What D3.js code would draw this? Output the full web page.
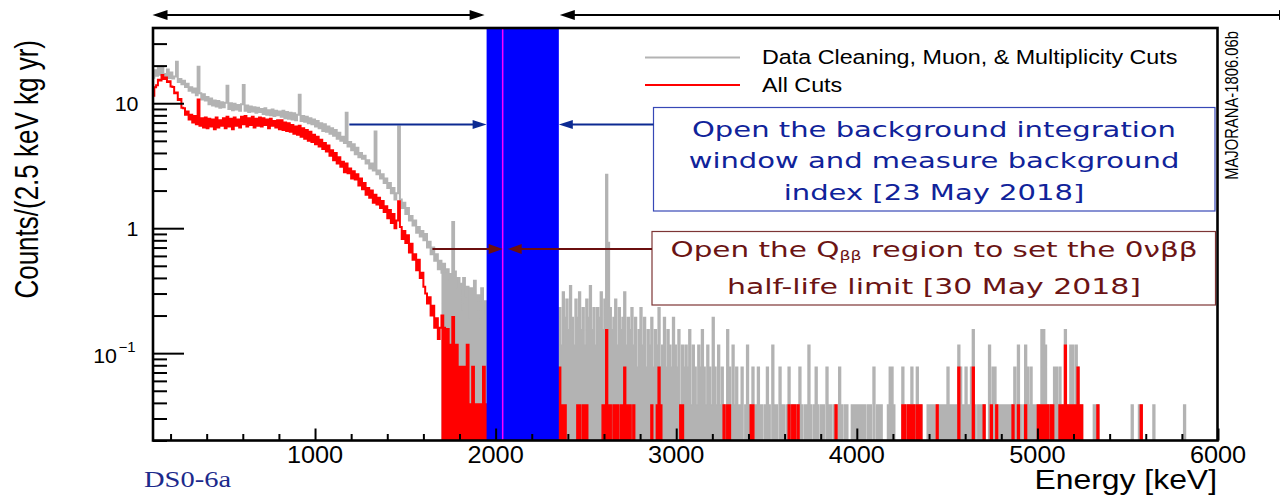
<!DOCTYPE html>
<html>
<head>
<meta charset="utf-8">
<script src="https://cdn.jsdelivr.net/npm/d3@7"></script>
<style>
  body { margin: 0; background: #ffffff; }
  svg { display: block; }
</style>
</head>
<body>
<svg id="chart" width="1280" height="501"></svg>
<script>
// ---- data ----
var binWidth = 10;          // keV per drawn bin
var countUnit = 0.0385;     // one count in counts/(2.5 keV kg yr)

// 100 - 1950 keV, counts/(2.5 keV kg yr)
var lowStart = 100;
var greyLow = [
  16.0, 18.4, 16.6, 19.2, 16.9, 19.6, 17.1, 16.2, 18.6, 15.9,
  17.6, 15.8, 16.4, 21.5, 14.8, 15.6, 14.2, 15.1, 13.5, 14.3,
  12.6, 13.4, 12.2, 13.1, 11.6, 19.6, 12.0, 10.7, 11.8, 10.5,
  11.2, 9.8, 10.9, 9.6, 10.5, 9.4, 10.4, 9.2, 10.2, 9.3,
  10.1, 13.8, 9.0, 10.0, 8.8, 9.9, 8.9, 9.7, 8.7, 9.8,
  14.0, 8.7, 9.6, 8.5, 9.4, 8.6, 9.3, 8.4, 9.2, 8.5,
  9.0, 8.2, 9.1, 8.1, 8.8, 8.0, 8.9, 7.9, 8.7, 8.0,
  8.6, 7.8, 8.7, 7.6, 8.5, 7.5, 8.4, 7.4, 8.3, 7.3,
  8.1, 11.7, 7.2, 7.9, 7.1, 7.8, 6.9, 7.6, 6.8, 7.4,
  6.5, 7.2, 6.3, 6.9, 6.0, 6.8, 5.9, 6.5, 5.7, 6.3,
  5.5, 6.1, 5.2, 5.8, 5.0, 5.4, 4.8, 8.4, 4.5, 4.9,
  4.2, 4.7, 3.9, 4.4, 3.7, 4.0, 3.6, 3.8, 3.3, 3.5,
  3.0, 3.3, 2.9, 5.95, 2.7, 2.9, 2.5, 2.7, 2.3, 2.5,
  2.1, 2.3, 1.9, 2.1, 1.7, 1.9, 6.5, 1.7, 1.45, 1.6,
  1.3, 1.45, 1.15, 1.25, 1.05, 1.15, 0.92, 1.02, 0.86, 0.95,
  0.8, 0.9, 0.7, 0.78, 0.62, 0.7, 0.55, 0.62, 0.47, 0.55,
  0.44, 0.52, 0.39, 0.47, 0.36, 0.43, 1.12, 0.45, 0.33, 0.4,
  0.36, 0.22, 0.40, 0.28, 0.34, 0.19, 0.33, 0.25, 0.38, 0.21,
  0.29, 0.17, 0.33, 0.2, 0.26
];
var redLow = [
  11.5, 13.4, 13.9, 15.4, 15.2, 16.8, 15.6, 16.1, 14.8, 15.0,
  13.6, 13.5, 12.0, 12.2, 10.6, 10.8, 9.2, 9.1, 8.1, 8.6,
  7.4, 8.1, 7.0, 7.9, 6.8, 10.7, 6.6, 7.6, 6.4, 7.7,
  6.3, 7.5, 6.5, 7.4, 6.2, 7.7, 6.4, 7.3, 6.6, 7.6,
  6.3, 7.8, 6.5, 7.5, 6.2, 7.7, 6.6, 7.4, 6.4, 7.8,
  6.8, 7.9, 6.5, 7.6, 6.7, 7.8, 6.4, 7.5, 6.6, 7.7,
  6.5, 7.6, 6.7, 7.4, 6.3, 7.5, 6.6, 7.2, 6.4, 7.3,
  6.2, 7.3, 6.1, 7.0, 6.0, 6.9, 5.9, 6.7, 5.7, 6.5,
  5.6, 6.6, 5.4, 6.3, 5.2, 6.1, 5.0, 5.9, 4.9, 5.6,
  4.7, 5.4, 4.5, 5.1, 4.3, 4.8, 4.1, 4.6, 3.8, 4.2,
  3.5, 4.0, 3.3, 3.7, 3.1, 3.4, 2.8, 3.3, 2.75, 3.0,
  2.5, 2.85, 2.45, 2.7, 2.2, 2.5, 2.05, 2.3, 1.85, 2.1,
  1.75, 2.0, 1.6, 1.85, 1.55, 1.75, 1.45, 1.65, 1.35, 1.5,
  1.2, 1.4, 1.1, 1.3, 1.0, 1.15, 1.64, 1.02, 0.82, 0.95,
  0.76, 0.88, 0.64, 0.75, 0.56, 0.62, 0.46, 0.56, 0.4, 0.44,
  0.34, 0.3, 0.25, 0.28, 0.2, 0.24, 0.16, 0.19, 0.13, 0.16,
  0.2, 0.16, 0.117, 0.156, 0.078, 0.117, 0.195, 0.078, 0.117, 0.078,
  0.078, 0.039, 0.078, 0.039, 0.117, 0.039, 0, 0.078, 0.039, 0.039,
  0.039, 0, 0.039, 0.078, 0.039
];
var tailStart = 1700;       // from here the fine bins look like solid bars

// 2350 - 6000 keV, counts per bin
var highStart = 2350;
var greyHigh = [
  6, 3, 8, 5, 7, 4, 9, 5, 3, 7,
  5, 8, 4, 6, 3, 7, 5, 9, 4, 6,
  3, 6, 5, 8, 4, 7, 70, 20, 6, 4,
  5, 7, 3, 6, 4, 5, 8, 3, 5, 4,
  6, 3, 5, 2, 4, 6, 3, 5, 2, 4,
  3, 5, 2, 4, 3, 6, 2, 3, 5, 2,
  4, 3, 2, 5, 3, 2, 4, 1, 3, 2,
  3, 2, 4, 1, 3, 2, 1, 3, 2, 4,
  2, 1, 3, 2, 1, 5, 2, 1, 3, 1,
  2, 1, 1, 4, 2, 1, 3, 1, 2, 1,
  1, 2, 0, 1, 3, 1, 1, 2, 0, 1,
  2, 1, 1, 0, 1, 2, 1, 0, 3, 1,
  1, 0, 2, 1, 1, 0, 1, 2, 1, 1,
  1, 1, 1, 2, 1, 0, 1, 1, 3, 1,
  0, 1, 2, 1, 0, 1, 1, 0, 2, 1,
  1, 0, 1, 1, 0, 2, 1, 0, 1, 1,
  0, 0, 1, 1, 1, 1, 1, 1, 1, 1,
  0, 1, 1, 0, 2, 0, 1, 1, 1, 0,
  0, 0, 1, 2, 2, 1, 0, 0, 0, 0,
  2, 1, 0, 1, 1, 2, 1, 1, 2, 1,
  1, 0, 0, 0, 1, 1, 1, 1, 0, 1,
  1, 1, 1, 1, 1, 2, 1, 1, 1, 1,
  1, 3, 2, 1, 1, 2, 1, 1, 2, 4,
  1, 0, 1, 1, 1, 1, 0, 0, 3, 1,
  2, 2, 1, 0, 1, 1, 1, 1, 1, 1,
  1, 1, 2, 1, 3, 1, 0, 1, 3, 2,
  1, 2, 1, 1, 1, 1, 1, 4, 4, 3,
  1, 1, 1, 1, 2, 2, 1, 2, 1, 1,
  4, 1, 1, 3, 3, 1, 3, 2, 1, 1,
  0, 0, 0, 0, 0, 0, 1, 1, 1, 0,
  0, 0, 0, 0, 0, 0, 0, 0, 0, 0,
  0, 0, 0, 0, 0, 0, 0, 1, 0, 0,
  0, 1, 1, 0, 0, 0, 0, 0, 0, 1,
  0, 0, 0, 0, 0, 0, 0, 0, 0, 0,
  0, 0, 0, 0, 0, 0, 1, 0, 0, 0,
  0, 0, 0, 0, 0, 0, 0, 0, 0, 0,
  0, 0, 0, 0, 0
];
// [bin start keV, counts]
var redHighEvents = [
  [2350, 2], [2360, 1], [2370, 1], [2380, 1], [2450, 1], [2460, 1], [2480, 1],
  [2490, 1], [2500, 1], [2590, 1], [2600, 1], [2610, 4], [2620, 1], [2630, 1],
  [2650, 1], [2660, 1], [2670, 1], [2690, 1], [2700, 1], [2710, 2], [2720, 1],
  [2730, 1], [2740, 1], [2760, 1], [2860, 1], [2890, 1], [2900, 2], [2910, 1],
  [3020, 1], [3030, 1], [3260, 1], [3280, 1], [3290, 1], [3410, 1], [3420, 1],
  [3620, 1], [3640, 1], [3650, 1], [3670, 1], [3880, 1], [4250, 1], [4260, 1],
  [4280, 1], [4290, 1], [4300, 1], [4310, 1], [4330, 1], [4340, 1], [4350, 1],
  [4440, 1], [4560, 2], [4640, 2], [4700, 1], [4740, 1], [4770, 1], [4860, 1],
  [4890, 1], [4930, 1], [5000, 1], [5010, 1], [5020, 1], [5030, 1], [5040, 1],
  [5050, 1], [5070, 1], [5080, 1], [5120, 1], [5130, 1], [5140, 1], [5150, 3],
  [5160, 1], [5170, 1], [5180, 1], [5190, 1], [5200, 1], [5210, 1], [5220, 2],
  [5230, 1], [5240, 1], [5330, 1], [5570, 1]
];

var bgWindow = [1950, 2350];
var qbb = 2039;
var xTickValues = [1000, 2000, 3000, 4000, 5000, 6000];
var yMajor = [0.1, 1, 10];
var legendNames = ["Data Cleaning, Muon, & Multiplicity Cuts", "All Cuts"];
var blueText = ["Open the background integration", "window and measure background", "index [23 May 2018]"];

// ---- drawing ----
var svg = d3.select("#chart");
var sans = "'Liberation Sans', Arial, Helvetica, sans-serif";
var box = "'DejaVu Sans', Verdana, sans-serif";

var x = d3.scaleLinear().domain([100, 6000]).range([152.5, 1218]);
var y = d3.scaleLog().domain([0.02, 40]).range([440.5, 28]);
var yBottom = 440.5;

svg.append("clipPath").attr("id", "clip")
  .append("rect")
    .attr("x", 153).attr("y", 28)
    .attr("width", 1217.5 - 153).attr("height", yBottom - 28);

function stepPath(start, values) {
  var p = d3.path();
  var yb = yBottom + 20;
  p.moveTo(x(start), yb);
  values.forEach(function(v, i) {
    var yy = v > 0 ? y(v) : yb;
    p.lineTo(x(start + i * binWidth), yy);
    p.lineTo(x(start + (i + 1) * binWidth), yy);
  });
  p.lineTo(x(start + values.length * binWidth), yb);
  return p.toString();
}

var redHigh = greyHigh.map(function() { return 0; });
redHighEvents.forEach(function(e) {
  redHigh[(e[0] - highStart) / binWidth] = e[1];
});
function toUnits(c) { return c * countUnit; }

var tailIndex = (tailStart - lowStart) / binWidth;
var hist = svg.append("g").attr("clip-path", "url(#clip)");
var series = [
  {color: "#b3b3b3", low: greyLow, high: greyHigh.map(toUnits)},
  {color: "#ff0000", low: redLow, high: redHigh.map(toUnits)}
];
series.forEach(function(s) {
  // continuum as a plain step line
  hist.append("path")
    .attr("d", stepPath(lowStart, s.low))
    .attr("fill", "none")
    .attr("stroke", s.color)
    .attr("stroke-width", 2);
  // steep tail: dense bins read as solid
  hist.append("path")
    .attr("d", stepPath(tailStart, s.low.slice(tailIndex)))
    .attr("fill", s.color);
  // sparse region: the 2.5 keV bins pack into solid bars
  hist.append("path")
    .attr("d", stepPath(highStart, s.high))
    .attr("fill", s.color)
    .attr("stroke", s.color)
    .attr("stroke-width", 1.5);
});

// blinded window and Q value
svg.append("rect")
  .attr("x", x(bgWindow[0])).attr("y", 28)
  .attr("width", x(bgWindow[1]) - x(bgWindow[0])).attr("height", yBottom - 28)
  .attr("fill", "#0000ff");
svg.append("line")
  .attr("x1", x(qbb)).attr("x2", x(qbb))
  .attr("y1", 28).attr("y2", yBottom)
  .attr("stroke", "#ff00ff").attr("stroke-width", 1.5);

// ticks (inside the frame)
var yMinor = y.ticks().filter(function(t) { return yMajor.indexOf(t) < 0 && t < 40; });
svg.append("g").attr("transform", "translate(153,0)")
  .call(d3.axisRight(y).tickValues(yMajor).tickSize(31).tickFormat(""))
  .call(function(g) { g.select(".domain").remove(); })
  .selectAll("line").attr("stroke-width", 2);
svg.append("g").attr("transform", "translate(153,0)")
  .call(d3.axisRight(y).tickValues(yMinor).tickSize(14).tickFormat(""))
  .call(function(g) { g.select(".domain").remove(); })
  .selectAll("line").attr("stroke-width", 2);

var xMinor = d3.range(200, 6000, 200).filter(function(t) { return t % 1000 !== 0; });
svg.append("g").attr("transform", "translate(0," + yBottom + ")")
  .call(d3.axisTop(x).tickValues(xTickValues).tickSize(12).tickFormat(""))
  .call(function(g) { g.select(".domain").remove(); })
  .selectAll("line").attr("stroke-width", 2);
svg.append("g").attr("transform", "translate(0," + yBottom + ")")
  .call(d3.axisTop(x).tickValues(xMinor).tickSize(6.5).tickFormat(""))
  .call(function(g) { g.select(".domain").remove(); })
  .selectAll("line").attr("stroke-width", 2);

// frame
svg.append("rect")
  .attr("x", 153).attr("y", 28)
  .attr("width", 1217.5 - 153).attr("height", yBottom - 28)
  .attr("fill", "none").attr("stroke", "#000").attr("stroke-width", 2.6);

function addText(str, px, py, size, sx, anchor, family, color, rot) {
  return svg.append("text")
    .attr("transform", "translate(" + px + "," + py + ") scale(" + sx + ",1)" + (rot ? " rotate(" + rot + ")" : ""))
    .attr("font-family", family || sans)
    .attr("font-size", size)
    .attr("fill", color || "#000")
    .style("text-anchor", anchor || "start")
    .text(str);
}

// tick labels
xTickValues.forEach(function(t) {
  addText(t, x(t), 463, 23, 1.1, "middle");
});
addText("10", 138.5, y(10) + 7.5, 20, 1.07, "end");
addText("1", 138.5, y(1) + 7.5, 20, 1.07, "end");
addText("10", 117, y(0.1) + 9.5, 20, 1.07, "end");
addText("\u22121", 118.5, y(0.1) - 1.5, 14, 1.07, "start");

// axis titles
addText("Energy [keV]", 1217, 489, 27.5, 1.16, "end");
addText("Counts/(2.5 keV kg yr)", 38, 40, 26, 1.25, "end", sans, "#000", -90);
addText("MAJORANA-1806.06b", 1238, 31, 14.8, 1.3, "end", sans, "#000", -90);
addText("DS0-6a", 144, 487, 23, 1.24, "start", "'Liberation Serif', 'Times New Roman', serif", "#1c2a8c");

// legend
var legendY = [57.5, 85];
var legendColors = ["#b3b3b3", "#ff0000"];
legendNames.forEach(function(name, i) {
  svg.append("line")
    .attr("x1", 645).attr("x2", 740)
    .attr("y1", legendY[i]).attr("y2", legendY[i])
    .attr("stroke", legendColors[i]).attr("stroke-width", 2);
  addText(name, 762, legendY[i] + 6.5, 19.5, 1.195, "start");
});

// arrows
function arrowHead(tipX, tipY, dir, len, half, color) {
  svg.append("path")
    .attr("d", "M" + tipX + "," + tipY + "L" + (tipX - dir * len) + "," + (tipY - half) +
               "L" + (tipX - dir * len) + "," + (tipY + half) + "Z")
    .attr("fill", color);
}
function hLine(x1, x2, yy, color, w) {
  svg.append("line")
    .attr("x1", x1).attr("x2", x2).attr("y1", yy).attr("y2", yy)
    .attr("stroke", color).attr("stroke-width", w);
}
hLine(x(100) + 5, x(bgWindow[0]) - 5, 15, "#000", 2);
arrowHead(x(100), 15, -1, 15, 5, "#000");
arrowHead(x(bgWindow[0]) - 2, 15, 1, 15, 5, "#000");
hLine(x(bgWindow[1]) + 5, 1285, 15, "#000", 2);
arrowHead(x(bgWindow[1]) + 1, 15, -1, 15, 5, "#000");
arrowHead(1294, 15, 1, 15, 5, "#000");

// blue annotation
var navy = "#0c2a92";
svg.append("rect")
  .attr("x", 653.5).attr("y", 107.5).attr("width", 1215 - 653.5).attr("height", 211 - 107.5)
  .attr("fill", "#fff").attr("stroke", "#3748b6").attr("stroke-width", 1.2);
hLine(x(1190), x(bgWindow[0]) - 12, 124.5, navy, 2);
arrowHead(x(bgWindow[0]), 124.5, 1, 14, 4.5, navy);
hLine(x(bgWindow[1]) + 12, 653.5, 124.5, navy, 2);
arrowHead(x(bgWindow[1]), 124.5, -1, 14, 4.5, navy);
var blueY = [137, 168, 200];
blueText.forEach(function(t, i) {
  addText(t, 934, blueY[i], 22, 1.32, "middle", box, "#10239a");
});

// dark red annotation
var maroon = "#6b0f0f";
svg.append("rect")
  .attr("x", 652).attr("y", 231.5).attr("width", 1215.5 - 652).attr("height", 305 - 231.5)
  .attr("fill", "#fff").attr("stroke", "#7d3535").attr("stroke-width", 1.2);
hLine(x(1650), x(qbb) - 12, 249, maroon, 2);
arrowHead(x(qbb), 249, 1, 14, 5, maroon);
hLine(x(qbb) + 16, 652, 249, maroon, 2);
arrowHead(x(qbb) + 5, 249, -1, 14, 5, maroon);

var q = svg.append("text")
  .attr("transform", "translate(934,256.5) scale(1.34,1)")
  .attr("font-family", box).attr("font-size", 22)
  .attr("fill", "#6b1414")
  .style("text-anchor", "middle");
q.append("tspan").text("Open the Q");
q.append("tspan").attr("font-size", 13).attr("dy", 3).text("\u03b2\u03b2");
q.append("tspan").attr("dy", -3).text(" region to set the 0\u03bd\u03b2\u03b2");
addText("half-life limit [30 May 2018]", 934, 294, 22, 1.36, "middle", box, "#6b1414");
</script>
</body>
</html>
